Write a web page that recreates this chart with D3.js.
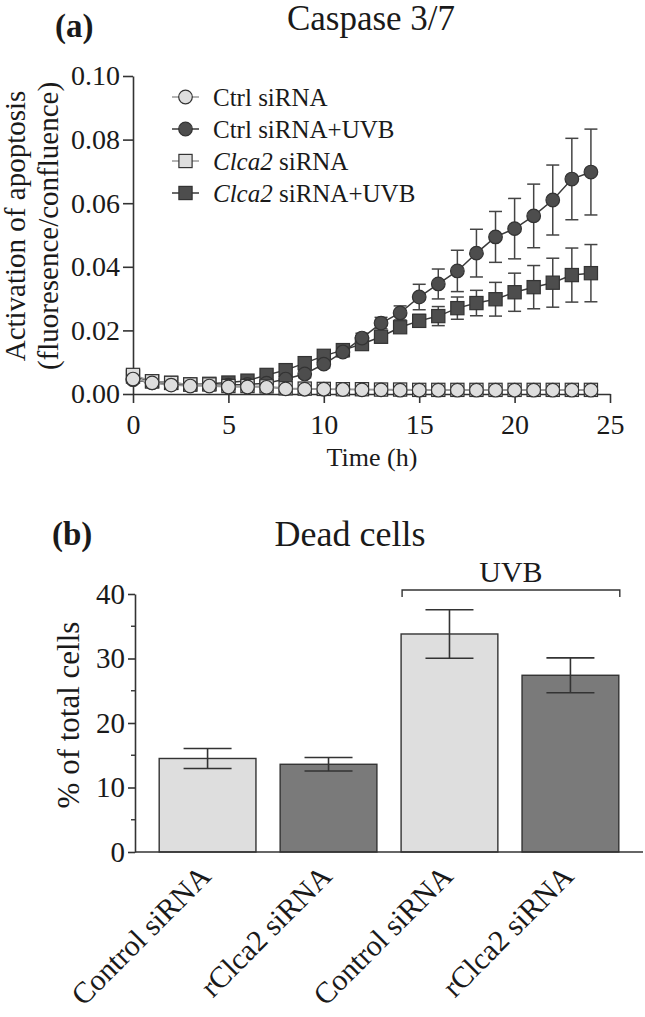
<!DOCTYPE html>
<html>
<head>
<meta charset="utf-8">
<script src="https://cdn.jsdelivr.net/npm/d3@7"></script>
<style>
  html, body { margin: 0; padding: 0; background: #fff; }
  svg { display: block; }
</style>
</head>
<body>
<svg id="chart" width="645" height="1017" font-family="'Liberation Serif', 'Times New Roman', serif"></svg>
<script>
// ---------- Data: panel (a) Caspase 3/7 ----------
const hours = [0,1,2,3,4,5,6,7,8,9,10,11,12,13,14,15,16,17,18,19,20,21,22,23,24];
const ctrlSi =      [0.0047,0.0035,0.0028,0.0025,0.0025,0.0022,0.0022,0.0021,0.0016,0.0015,0.0015,0.0014,0.0013,0.0013,0.0012,0.0012,0.0012,0.0012,0.0012,0.0012,0.0012,0.0012,0.0012,0.0012,0.0012];
const ctrlSiErr =   [0.0005,0.0004,0.0004,0.0004,0.0004,0.0004,0.0004,0.0004,0.0004,0.0004,0.0004,0.0004,0.0004,0.0004,0.0004,0.0004,0.0004,0.0004,0.0004,0.0004,0.0004,0.0004,0.0004,0.0004,0.0004];
const ctrlUVB =     [0.0045,0.0035,0.0030,0.0030,0.0028,0.0028,0.0030,0.0034,0.0047,0.0063,0.0094,0.0132,0.0176,0.0223,0.0255,0.0305,0.0346,0.0387,0.0443,0.0494,0.0520,0.0560,0.0610,0.0676,0.0698];
const ctrlUVBErr =  [0.0005,0.0005,0.0005,0.0005,0.0005,0.0005,0.0006,0.0008,0.0010,0.0012,0.0012,0.0015,0.0015,0.0018,0.0022,0.0040,0.0047,0.0065,0.0075,0.0080,0.0095,0.0100,0.0110,0.0128,0.0135];
const clca2Si =     [0.0060,0.0040,0.0035,0.0030,0.0030,0.0025,0.0025,0.0024,0.0018,0.0017,0.0016,0.0015,0.0015,0.0014,0.0014,0.0013,0.0013,0.0013,0.0013,0.0013,0.0013,0.0013,0.0013,0.0013,0.0013];
const clca2SiErr =  [0.0006,0.0004,0.0004,0.0004,0.0004,0.0004,0.0004,0.0004,0.0004,0.0004,0.0004,0.0004,0.0004,0.0004,0.0004,0.0004,0.0004,0.0004,0.0004,0.0004,0.0004,0.0004,0.0004,0.0004,0.0004];
const clca2UVB =    [0.0055,0.0040,0.0035,0.0030,0.0032,0.0036,0.0042,0.0060,0.0075,0.0097,0.0120,0.0138,0.0157,0.0180,0.0210,0.0230,0.0245,0.0270,0.0286,0.0298,0.0320,0.0336,0.0350,0.0374,0.0380];
const clca2UVBErr = [0.0005,0.0005,0.0005,0.0005,0.0005,0.0005,0.0006,0.0008,0.0010,0.0010,0.0010,0.0010,0.0010,0.0012,0.0015,0.0020,0.0030,0.0035,0.0040,0.0053,0.0060,0.0068,0.0077,0.0085,0.0090];
const yTicksA = [0, 0.02, 0.04, 0.06, 0.08, 0.10];
const xTicksA = [0, 5, 10, 15, 20, 25];

// ---------- Data: panel (b) Dead cells ----------
const groups = ["Control siRNA", "rClca2 siRNA", "Control siRNA ", "rClca2 siRNA "];
const groupLabels = ["Control siRNA", "rClca2 siRNA", "Control siRNA", "rClca2 siRNA"];
const deadCells = [14.5, 13.6, 33.8, 27.4];
const deadCellsErr = [1.55, 1.05, 3.75, 2.7];
const yTicksB = [0, 10, 20, 30, 40];
const yMinorB = [5, 15, 25, 35];

const LIGHT = "#dedede", DARK_MARK = "#4d4d4d", DARK_BAR = "#7a7a7a", INK = "#333";
const FONT = "'Liberation Serif', 'Times New Roman', Times, serif";

const svg = d3.select("#chart");

// =================== Panel (a) ===================
const xA = d3.scaleLinear().domain([0, 25]).range([133, 610]);
const yA = d3.scaleLinear().domain([0, 0.10]).range([394, 76]);

svg.append("text").attr("x", 55).attr("y", 37).attr("font-size", 33).attr("font-weight", "bold").text("(a)");
svg.append("text").attr("x", 371).attr("y", 30).attr("font-size", 35).attr("text-anchor", "middle").text("Caspase 3/7");

const gyA = svg.append("g").attr("transform", "translate(133,0)")
  .call(d3.axisLeft(yA).tickValues(yTicksA).tickFormat(d3.format(".2f")).tickSize(10).tickSizeOuter(0).tickPadding(3));
const gxA = svg.append("g").attr("transform", "translate(0,394)")
  .call(d3.axisBottom(xA).tickValues(xTicksA).tickFormat(d3.format("d")).tickSize(9).tickSizeOuter(0).tickPadding(11));
[gyA, gxA].forEach(g => {
  g.attr("font-family", FONT);
  g.selectAll("path,line").attr("stroke", INK).attr("stroke-width", 1.6);
  g.selectAll("text").attr("font-size", 28).attr("fill", "#1a1a1a");
});

svg.append("text").attr("transform", "translate(25,226) rotate(-90)").attr("font-size", 29)
  .attr("text-anchor", "middle").text("Activation of apoptosis");
svg.append("text").attr("transform", "translate(58,226) rotate(-90)").attr("font-size", 29)
  .attr("text-anchor", "middle").text("(fluoresence/confluence)");
svg.append("text").attr("x", 372).attr("y", 466).attr("font-size", 26).attr("text-anchor", "middle").text("Time (h)");

const seriesA = [
  { vals: clca2UVB, err: clca2UVBErr, shape: "square", fill: DARK_MARK, line: "#3a3a3a" },
  { vals: ctrlUVB,  err: ctrlUVBErr,  shape: "circle", fill: DARK_MARK, line: "#3a3a3a" },
  { vals: clca2Si,  err: clca2SiErr,  shape: "square", fill: LIGHT,     line: "#9a9a9a" },
  { vals: ctrlSi,   err: ctrlSiErr,   shape: "circle", fill: LIGHT,     line: "#9a9a9a" }
];
const lineGen = d3.line().x((d, i) => xA(hours[i])).y(d => yA(d));
seriesA.forEach(s => {
  const g = svg.append("g");
  s.vals.forEach((v, i) => {
    const cx = xA(hours[i]);
    const y1 = yA(v + s.err[i]), y0 = yA(v - s.err[i]);
    g.append("line").attr("x1", cx).attr("x2", cx).attr("y1", y1).attr("y2", y0).attr("stroke", "#444").attr("stroke-width", 1.5);
    g.append("line").attr("x1", cx - 6.5).attr("x2", cx + 6.5).attr("y1", y1).attr("y2", y1).attr("stroke", "#444").attr("stroke-width", 1.5);
    g.append("line").attr("x1", cx - 6.5).attr("x2", cx + 6.5).attr("y1", y0).attr("y2", y0).attr("stroke", "#444").attr("stroke-width", 1.5);
  });
  g.append("path").datum(s.vals).attr("d", lineGen).attr("fill", "none").attr("stroke", s.line).attr("stroke-width", 1.5);
  s.vals.forEach((v, i) => {
    const cx = xA(hours[i]), cy = yA(v);
    if (s.shape === "circle") {
      g.append("circle").attr("cx", cx).attr("cy", cy).attr("r", 6.8).attr("fill", s.fill).attr("stroke", "#333").attr("stroke-width", 1.2);
    } else {
      g.append("rect").attr("x", cx - 6.6).attr("y", cy - 6.6).attr("width", 13.2).attr("height", 13.2).attr("fill", s.fill).attr("stroke", "#333").attr("stroke-width", 1.2);
    }
  });
});

// legend
const legendItems = [
  { parts: [["Ctrl siRNA", false]], shape: "circle", fill: LIGHT, line: "#9a9a9a" },
  { parts: [["Ctrl siRNA+UVB", false]], shape: "circle", fill: DARK_MARK, line: "#3a3a3a" },
  { parts: [["Clca2", true], [" siRNA", false]], shape: "square", fill: LIGHT, line: "#9a9a9a" },
  { parts: [["Clca2", true], [" siRNA+UVB", false]], shape: "square", fill: DARK_MARK, line: "#3a3a3a" }
];
legendItems.forEach((it, i) => {
  const cy = 97 + i * 32;
  svg.append("line").attr("x1", 172).attr("x2", 199).attr("y1", cy).attr("y2", cy).attr("stroke", it.line).attr("stroke-width", 1.5);
  if (it.shape === "circle") {
    svg.append("circle").attr("cx", 185.5).attr("cy", cy).attr("r", 6.8).attr("fill", it.fill).attr("stroke", "#333").attr("stroke-width", 1.2);
  } else {
    svg.append("rect").attr("x", 185.5 - 6.6).attr("y", cy - 6.6).attr("width", 13.2).attr("height", 13.2).attr("fill", it.fill).attr("stroke", "#333").attr("stroke-width", 1.2);
  }
  const t = svg.append("text").attr("x", 213).attr("y", cy + 8.5).attr("font-size", 25);
  it.parts.forEach(p => t.append("tspan").attr("font-style", p[1] ? "italic" : "normal").text(p[0]));
});

// =================== Panel (b) ===================
const xB = d3.scaleBand().domain(groups).range([135, 643]).paddingInner(0.2).paddingOuter(0.2);
const yB = d3.scaleLinear().domain([0, 40]).range([852, 594]);

svg.append("text").attr("x", 52).attr("y", 545).attr("font-size", 33).attr("font-weight", "bold").text("(b)");
svg.append("text").attr("x", 350).attr("y", 546).attr("font-size", 36).attr("text-anchor", "middle").text("Dead cells");

groups.forEach((gname, i) => {
  svg.append("rect").attr("x", xB(gname)).attr("y", yB(deadCells[i]))
    .attr("width", xB.bandwidth()).attr("height", yB(0) - yB(deadCells[i]))
    .attr("fill", i % 2 === 0 ? LIGHT : DARK_BAR).attr("stroke", "#333").attr("stroke-width", 1.4);
  const cx = xB(gname) + xB.bandwidth() / 2;
  const y1 = yB(deadCells[i] + deadCellsErr[i]), y0 = yB(deadCells[i] - deadCellsErr[i]);
  svg.append("line").attr("x1", cx).attr("x2", cx).attr("y1", y1).attr("y2", y0).attr("stroke", "#333").attr("stroke-width", 1.6);
  svg.append("line").attr("x1", cx - 24).attr("x2", cx + 24).attr("y1", y1).attr("y2", y1).attr("stroke", "#333").attr("stroke-width", 1.6);
  svg.append("line").attr("x1", cx - 24).attr("x2", cx + 24).attr("y1", y0).attr("y2", y0).attr("stroke", "#333").attr("stroke-width", 1.6);
  svg.append("text").attr("transform", `translate(${cx + 5},878) rotate(-45)`).attr("text-anchor", "end")
    .attr("font-size", 30).text(groupLabels[i]);
});

const gyB = svg.append("g").attr("transform", "translate(135,0)")
  .call(d3.axisLeft(yB).tickValues(yTicksB).tickFormat(d3.format("d")).tickSize(7).tickSizeOuter(0).tickPadding(3));
gyB.attr("font-family", FONT);
gyB.selectAll("path,line").attr("stroke", INK).attr("stroke-width", 1.6);
gyB.selectAll("text").attr("font-size", 29).attr("fill", "#1a1a1a");
yMinorB.forEach(v => {
  svg.append("line").attr("x1", 131).attr("x2", 135).attr("y1", yB(v)).attr("y2", yB(v)).attr("stroke", INK).attr("stroke-width", 1.4);
});
svg.append("line").attr("x1", 135).attr("x2", 643).attr("y1", yB(0)).attr("y2", yB(0)).attr("stroke", INK).attr("stroke-width", 1.6);

svg.append("text").attr("transform", "translate(79,715) rotate(-90)").attr("font-size", 31)
  .attr("text-anchor", "middle").text("% of total cells");

const bx0 = xB(groups[2]) + 1, bx1 = xB(groups[3]) + xB.bandwidth() + 1;
svg.append("path").attr("d", `M${bx0},597 V590 H${bx1} V597`).attr("fill", "none").attr("stroke", INK).attr("stroke-width", 1.4);
svg.append("text").attr("x", (bx0 + bx1) / 2).attr("y", 582).attr("font-size", 30).attr("text-anchor", "middle").text("UVB");

svg.selectAll("text").attr("font-family", FONT).style("font-family", FONT).attr("fill", "#1a1a1a");
</script>
</body>
</html>
